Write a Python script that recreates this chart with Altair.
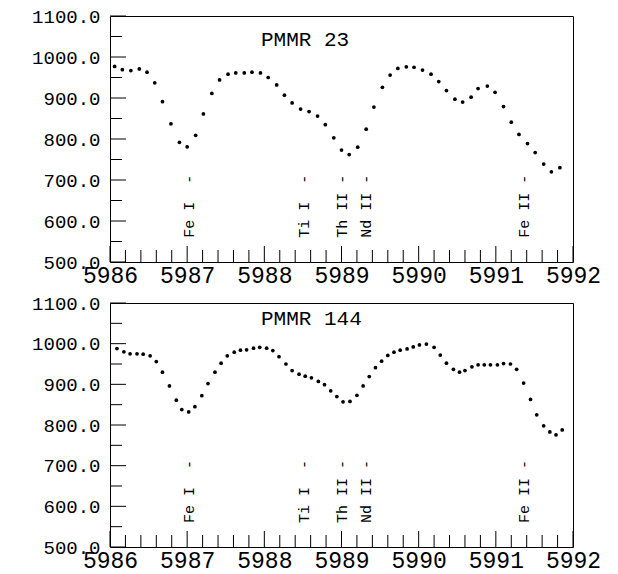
import altair as alt
import pandas as pd

FONT = "Liberation Mono"

# ---- data: PMMR 23 (top panel) ----
wl_23 = [5986.06, 5986.16, 5986.27, 5986.38, 5986.48, 5986.58, 5986.68, 5986.79, 5986.90,
         5987.00, 5987.11, 5987.21, 5987.32, 5987.42, 5987.53, 5987.63, 5987.74, 5987.84, 5987.95,
         5988.05, 5988.16, 5988.26, 5988.36, 5988.47, 5988.58, 5988.69, 5988.79, 5988.90,
         5989.00, 5989.10, 5989.21, 5989.32, 5989.42, 5989.53, 5989.63, 5989.73, 5989.84, 5989.94,
         5990.05, 5990.16, 5990.26, 5990.36, 5990.47, 5990.57, 5990.68, 5990.77, 5990.89, 5990.99,
         5991.10, 5991.20, 5991.30, 5991.41, 5991.51, 5991.62, 5991.72, 5991.83]
flux_23 = [977, 969, 967, 971, 963, 937, 891, 837, 792,
           781, 809, 861, 911, 944, 958, 961, 961, 963, 961,
           950, 932, 907, 888, 873, 867, 856, 835, 803,
           773, 762, 780, 824, 878, 926, 956, 972, 976, 975,
           968, 958, 940, 918, 897, 890, 902, 923, 929, 914,
           879, 841, 811, 789, 767, 739, 720, 730]

# ---- data: PMMR 144 (bottom panel) ----
wl_144 = [5986.09, 5986.18, 5986.26, 5986.35, 5986.43, 5986.52, 5986.60, 5986.68, 5986.77, 5986.86, 5986.93,
          5987.02, 5987.10, 5987.19, 5987.27, 5987.36, 5987.44, 5987.52, 5987.61, 5987.69, 5987.77, 5987.86, 5987.94,
          5988.03, 5988.11, 5988.19, 5988.28, 5988.36, 5988.45, 5988.53, 5988.61, 5988.70, 5988.78, 5988.86, 5988.94,
          5989.02, 5989.11, 5989.20, 5989.28, 5989.36, 5989.44, 5989.52, 5989.60, 5989.68, 5989.76, 5989.85, 5989.93,
          5990.01, 5990.10, 5990.20, 5990.28, 5990.36, 5990.45, 5990.53, 5990.60, 5990.69, 5990.77, 5990.85, 5990.93,
          5991.02, 5991.10, 5991.19, 5991.27, 5991.36, 5991.45, 5991.53, 5991.62, 5991.70, 5991.78, 5991.86]
flux_144 = [988, 980, 975, 975, 974, 970, 956, 930, 896, 861, 838,
            832, 845, 872, 902, 930, 952, 970, 979, 984, 985, 989, 991,
            989, 983, 968, 950, 934, 925, 920, 916, 907, 899, 884, 870,
            857, 858, 873, 896, 919, 941, 957, 971, 979, 984, 987, 992,
            997, 999, 991, 972, 952, 937, 930, 934, 943, 948, 948, 948,
            948, 951, 950, 937, 903, 863, 825, 798, 783, 776, 788]

# ---- line identifications ----
line_names = ["Fe I", "Ti I", "Th II", "Nd II", "Fe II"]
line_wl = [5987.03, 5988.52, 5989.00, 5989.32, 5991.37]
line_label_start = 559

panel_titles = ["PMMR 23", "PMMR 144"]

# ---- ticks ----
x_major = [5986, 5987, 5988, 5989, 5990, 5991, 5992]
x_minor = [5986.2, 5986.4, 5986.6, 5986.8, 5987.2, 5987.4, 5987.6, 5987.8,
           5988.2, 5988.4, 5988.6, 5988.8, 5989.2, 5989.4, 5989.6, 5989.8,
           5990.2, 5990.4, 5990.6, 5990.8, 5991.2, 5991.4, 5991.6, 5991.8]
y_major = [500, 600, 700, 800, 900, 1000, 1100]
y_minor = [550, 650, 750, 850, 950, 1050]

W = 463


def panel(wl, flux, title, title_y, H):
    xs = alt.Scale(domain=[5986, 5992], nice=False, zero=False)
    ys = alt.Scale(domain=[500, 1100], nice=False, zero=False)
    xax = alt.Axis(values=x_major, format="d", title=None, grid=False, ticks=False,
                   domain=False, labelFont=FONT, labelFontSize=23, labelColor="black",
                   labelPadding=2, labelFlush=False, labelOverlap=False)
    yax = alt.Axis(values=y_major, format=".1f", title=None, grid=False, ticks=False,
                   domain=False, labelFont=FONT, labelFontSize=19, labelColor="black",
                   labelPadding=10, labelFlush=False, labelOverlap=False)

    pts = alt.Chart(pd.DataFrame({"wl": wl, "flux": flux})).mark_circle(
        size=14, color="black", opacity=1
    ).encode(x=alt.X("wl:Q", scale=xs, axis=xax), y=alt.Y("flux:Q", scale=ys, axis=yax))

    xmaj = alt.Chart(pd.DataFrame({"wl": x_major})).mark_rule(color="black", strokeWidth=1).encode(
        x=alt.X("wl:Q", scale=xs, axis=xax), y=alt.value(H - 16), y2=alt.value(H))
    xmin = alt.Chart(pd.DataFrame({"wl": x_minor})).mark_rule(color="black", strokeWidth=1).encode(
        x=alt.X("wl:Q", scale=xs, axis=xax), y=alt.value(H - 12), y2=alt.value(H))
    ymaj = alt.Chart(pd.DataFrame({"flux": y_major})).mark_rule(color="black", strokeWidth=1).encode(
        y=alt.Y("flux:Q", scale=ys, axis=yax), x=alt.value(0), x2=alt.value(16))
    ymin = alt.Chart(pd.DataFrame({"flux": y_minor})).mark_rule(color="black", strokeWidth=1).encode(
        y=alt.Y("flux:Q", scale=ys, axis=yax), x=alt.value(0), x2=alt.value(12))

    labels_df = pd.DataFrame({
        "wl": line_wl,
        "flux": [line_label_start] * len(line_wl),
        "label": [n.ljust(6).replace(" ", "\u00a0") + "-" for n in line_names],
    })
    labels = alt.Chart(labels_df).mark_text(
        angle=270, align="left", baseline="middle", font=FONT, fontSize=15, color="black"
    ).encode(x=alt.X("wl:Q", scale=xs, axis=xax), y=alt.Y("flux:Q", scale=ys, axis=yax), text="label:N")

    ttl = alt.Chart(pd.DataFrame({"t": [title]})).mark_text(
        align="left", baseline="alphabetic", font=FONT, fontSize=21, color="black"
    ).encode(x=alt.value(151), y=alt.value(title_y), text="t:N")

    return alt.layer(pts, xmaj, xmin, ymaj, ymin, labels, ttl).properties(width=W, height=H)


top = panel(wl_23, flux_23, panel_titles[0], 30, 246)
bottom = panel(wl_144, flux_144, panel_titles[1], 22, 244)

chart = alt.vconcat(top, bottom, spacing=41, bounds="flush").properties(
    padding={"left": 31, "top": 6, "right": 5, "bottom": 5},
    background="white",
).configure_view(stroke="black", strokeWidth=1)

chart.save("out.html", embed_options={"renderer": "svg", "actions": False})
